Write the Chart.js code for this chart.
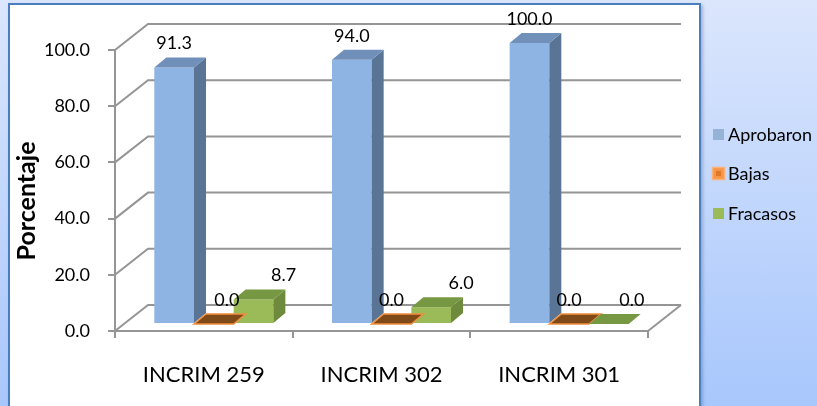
<!DOCTYPE html>
<html>
<head>
<meta charset="utf-8">
<script src="https://cdn.jsdelivr.net/npm/chart.js@4.4.0/dist/chart.umd.min.js"></script>
<style>
    html, body { margin: 0; padding: 0; }
    body {
        width: 817px; height: 406px; overflow: hidden; position: relative;
        background: linear-gradient(to bottom, #dbe6fc, #a8c7fc);
    }
    #panel {
        position: absolute; left: 8px; top: 3px; width: 689px; height: 430px;
        background: #fff; border: 2.5px solid #4a7ebf;
        box-shadow: 2px 2px 3px rgba(60, 90, 140, 0.35);
    }
    #wrap { position: absolute; left: 0; top: 0; width: 817px; height: 406px; }
</style>
</head>
<body>
<div id="panel"></div>
<div id="wrap"><canvas id="grafico" width="817" height="406"></canvas></div>
<script>
// Datos del gráfico
const categorias = ['INCRIM 259', 'INCRIM 302', 'INCRIM 301'];
const aprobaron = [91.3, 94.0, 100.0];
const bajas = [0.0, 0.0, 0.0];
const fracasos = [8.7, 6.0, 0.0];
const ticksY = [0, 20, 40, 60, 80, 100];

// efecto 3D
const FONDO_X = 33, FONDO_Y = -26;   // profundidad de las paredes
const BARRA_X = 10, BARRA_Y = -7;    // posición de las barras dentro del fondo
const CARA_X = 12, CARA_Y = -10;     // profundidad de cada barra
const GRIS = '#959595';

// colores de cada serie: frente, lado, tapa, borde de tapa
const estilos = [
    { frente: '#8eb4e3', lado: '#5a7496', tapa: '#7090ba', borde: null },
    { frente: '#f79646', lado: '#b0601f', tapa: '#7f4a18', borde: '#f0903e' },
    { frente: '#9bbb59', lado: '#6e8a3c', tapa: '#779842', borde: null },
];
// ajuste de las etiquetas de valor (como las coloca Excel)
const desplazamientos = [[0, 0, 0], [13, 0, 0], [30, 30, 23]];

// Paredes, caras laterales y etiquetas
const efecto3D = {
    id: 'efecto3D',
    beforeDatasetsDraw(chart) {
        const { ctx, chartArea: a, scales: { y } } = chart;
        ctx.save();
        ctx.strokeStyle = GRIS;
        ctx.lineWidth = 2;
        ticksY.forEach(v => {
            const py = y.getPixelForValue(v);
            ctx.beginPath();
            ctx.moveTo(a.left, py);
            ctx.lineTo(a.left + FONDO_X, py + FONDO_Y);
            ctx.lineTo(a.right + FONDO_X, py + FONDO_Y);
            ctx.stroke();
        });
        const py0 = y.getPixelForValue(0);
        ctx.beginPath();
        ctx.moveTo(a.right, py0);
        ctx.lineTo(a.right + FONDO_X, py0 + FONDO_Y);
        ctx.stroke();
        ctx.restore();

        ctx.save();
        ctx.translate(BARRA_X, BARRA_Y);
    },
    afterDatasetsDraw(chart) {
        const { ctx } = chart;
        chart.data.datasets.forEach((ds, i) => {
            const e = estilos[i];
            chart.getDatasetMeta(i).data.forEach(bar => {
                const { x, y, base, width } = bar.getProps(['x', 'y', 'base', 'width'], true);
                const l = x - width / 2, r = x + width / 2;
                if (base - y > 0.5) {
                    ctx.beginPath();
                    ctx.moveTo(r, y);
                    ctx.lineTo(r + CARA_X, y + CARA_Y);
                    ctx.lineTo(r + CARA_X, base + CARA_Y);
                    ctx.lineTo(r, base);
                    ctx.closePath();
                    ctx.fillStyle = e.lado;
                    ctx.fill();
                }
                ctx.beginPath();
                ctx.moveTo(l, y);
                ctx.lineTo(l + CARA_X, y + CARA_Y);
                ctx.lineTo(r + CARA_X, y + CARA_Y);
                ctx.lineTo(r, y);
                ctx.closePath();
                ctx.fillStyle = e.tapa;
                ctx.fill();
                if (e.borde) {
                    ctx.strokeStyle = e.borde;
                    ctx.lineWidth = 1.5;
                    ctx.stroke();
                }
            });
        });
        ctx.restore();

        // etiquetas de valor
        ctx.save();
        ctx.fillStyle = '#000';
        ctx.font = '18px Lato';
        ctx.textAlign = 'center';
        ctx.textBaseline = 'middle';
        chart.data.datasets.forEach((ds, i) => {
            chart.getDatasetMeta(i).data.forEach((bar, j) => {
                const { x, y } = bar.getProps(['x', 'y'], true);
                ctx.fillText(ds.data[j].toFixed(1), x + BARRA_X + desplazamientos[i][j], y + BARRA_Y - 24);
            });
        });
        ctx.restore();
    },
};

// Leyenda a la derecha y título del eje
const leyenda = {
    id: 'leyenda',
    afterDraw(chart) {
        const { ctx } = chart;
        const filas = [134, 173, 213];
        ctx.save();
        ctx.font = '18px Lato';
        ctx.textBaseline = 'middle';
        chart.data.datasets.forEach((ds, i) => {
            const cy = filas[i];
            ctx.fillStyle = i === 0 ? '#95b3d7' : estilos[i].frente;
            ctx.fillRect(713, cy - 5, 11, 11);
            if (i === 1) {
                ctx.strokeStyle = '#f9b27a';
                ctx.lineWidth = 1.5;
                ctx.strokeRect(712.5, cy - 5.5, 12, 12);
                ctx.fillStyle = '#e0782a';
                ctx.fillRect(716, cy - 2, 5, 5);
            }
            ctx.fillStyle = '#000';
            ctx.fillText(ds.label, 728, cy + 1);
        });

        ctx.translate(27, 201);
        ctx.rotate(-Math.PI / 2);
        ctx.textAlign = 'center';
        ctx.font = 'bold 25px Lato';
        ctx.fillText('Porcentaje', 0, 0);
        ctx.restore();
    },
};

main();

function main() {
    const ctx = document.getElementById('grafico');
    new Chart(ctx, {
        type: 'bar',
        data: {
            labels: categorias,
            datasets: [
                { label: 'Aprobaron', data: aprobaron, backgroundColor: estilos[0].frente },
                { label: 'Bajas', data: bajas, backgroundColor: estilos[1].frente },
                { label: 'Fracasos', data: fracasos, backgroundColor: estilos[2].frente },
            ],
        },
        options: {
            responsive: false,
            animation: false,
            layout: { padding: { top: 50, right: 169, bottom: 0, left: 0 } },
            datasets: { bar: { categoryPercentage: 0.67, barPercentage: 1, borderWidth: 0 } },
            plugins: { legend: { display: false }, tooltip: { enabled: false } },
            scales: {
                x: {
                    afterFit: s => { s.height = 75; },
                    grid: { offset: true, drawOnChartArea: false, color: GRIS, lineWidth: 2, tickLength: 7 },
                    border: { color: GRIS, width: 2 },
                    ticks: { color: '#000', font: { family: 'Lato', size: 22 }, padding: 24 },
                },
                y: {
                    min: 0,
                    max: 100,
                    afterFit: s => { s.width = 115; },
                    afterBuildTicks: s => { s.ticks = ticksY.map(v => ({ value: v })); },
                    grid: { drawOnChartArea: false, color: GRIS, lineWidth: 2, tickLength: 7 },
                    border: { color: GRIS, width: 2 },
                    ticks: {
                        color: '#000', font: { family: 'Lato', size: 18 }, padding: 18,
                        callback: v => Number(v).toFixed(1),
                    },
                },
            },
        },
        plugins: [efecto3D, leyenda],
    });
}
</script>
</body>
</html>
